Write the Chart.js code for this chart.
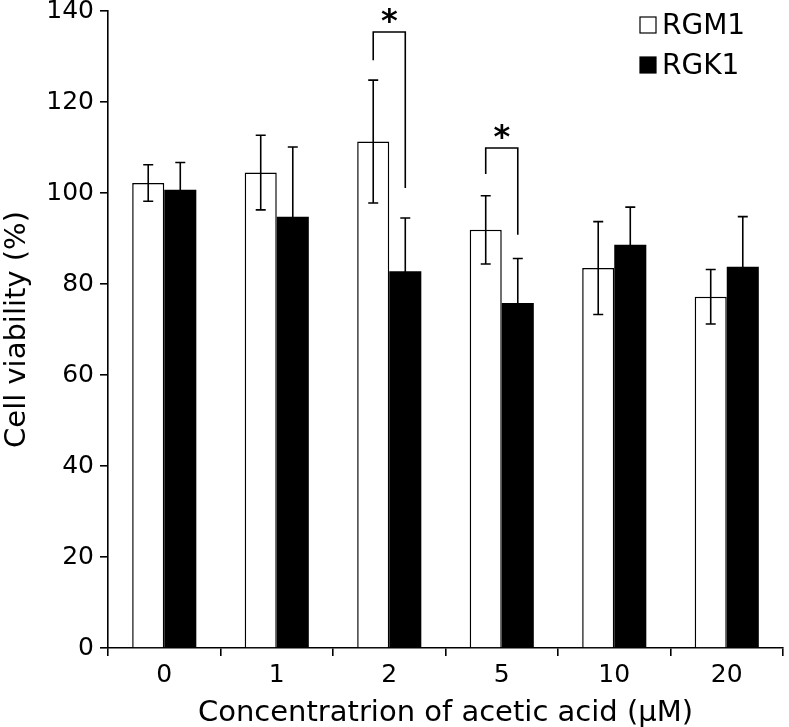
<!DOCTYPE html>
<html>
<head>
<meta charset="utf-8">
<script src="https://cdn.jsdelivr.net/npm/chart.js@4/dist/chart.umd.min.js"></script>
<style>
  html, body { margin: 0; padding: 0; background: #fff; }
  #wrap { width: 789px; height: 727px; }
</style>
</head>
<body>
<div id="wrap"><canvas id="chart"></canvas></div>
<script>
// données
const concentrations = ['0', '1', '2', '5', '10', '20'];
const rgm1 = [102.2, 104.5, 111.3, 91.9, 83.5, 77.2];
const rgm1Err = [4.0, 8.2, 13.5, 7.5, 10.2, 6.0];
const rgk1 = [100.7, 94.8, 82.8, 75.8, 88.6, 83.8];
const rgk1Err = [6.0, 15.3, 11.7, 9.8, 8.3, 11.0];
const yTicks = [0, 20, 40, 60, 80, 100, 120, 140];

// crochets de significativité : catégorie, bas gauche, haut, bas droit
const sigCategory = [2, 3];
const sigLeftLow = [129.2, 104.2];
const sigTop = [135.4, 109.9];
const sigRightLow = [101.1, 90.8];

const FONT = 'DejaVu Sans, Verdana, sans-serif';

// barres d'erreur, crochets et légende dessinés par-dessus
const overlay = {
    id: 'overlay',
    afterDatasetsDraw(chart) {
        const ctx = chart.ctx;
        const y = chart.scales.y;
        ctx.save();
        ctx.strokeStyle = '#000';
        ctx.lineWidth = 1.6;
        const errs = [rgm1Err, rgk1Err];
        chart.data.datasets.forEach((ds, d) => {
            const meta = chart.getDatasetMeta(d);
            meta.data.forEach((bar, i) => {
                const v = ds.data[i];
                const top = y.getPixelForValue(v + errs[d][i]);
                const bot = y.getPixelForValue(v - errs[d][i]);
                ctx.beginPath();
                ctx.moveTo(bar.x, top); ctx.lineTo(bar.x, bot);
                ctx.moveTo(bar.x - 5, top); ctx.lineTo(bar.x + 5, top);
                ctx.moveTo(bar.x - 5, bot); ctx.lineTo(bar.x + 5, bot);
                ctx.stroke();
            });
        });

        // crochets + astérisques
        sigCategory.forEach((c, k) => {
            const x1 = chart.getDatasetMeta(0).data[c].x;
            const x2 = chart.getDatasetMeta(1).data[c].x;
            const yt = y.getPixelForValue(sigTop[k]);
            ctx.beginPath();
            ctx.moveTo(x1, y.getPixelForValue(sigLeftLow[k]));
            ctx.lineTo(x1, yt);
            ctx.lineTo(x2, yt);
            ctx.lineTo(x2, y.getPixelForValue(sigRightLow[k]));
            ctx.stroke();
            ctx.fillStyle = '#000';
            ctx.font = 'bold 32px ' + FONT;
            ctx.textAlign = 'center';
            ctx.textBaseline = 'middle';
            ctx.fillText('*', (x1 + x2) / 2, yt - 9);
        });

        // légende
        ctx.font = '28px ' + FONT;
        ctx.textAlign = 'left';
        ctx.textBaseline = 'middle';
        chart.data.datasets.forEach((ds, d) => {
            const by = 17 + d * 40;
            ctx.fillStyle = ds.backgroundColor;
            ctx.fillRect(640, by, 16, 16);
            ctx.lineWidth = 1.2;
            ctx.strokeRect(640, by, 16, 16);
            ctx.fillStyle = '#000';
            ctx.fillText(ds.label, 662, by + 10);
        });
        ctx.restore();
    }
};

new Chart(document.getElementById('chart'), {
    type: 'bar',
    data: {
        labels: concentrations,
        datasets: [
            {
                label: 'RGM1',
                data: rgm1,
                backgroundColor: '#ffffff',
                borderColor: '#000000',
                borderWidth: 1.5,
                categoryPercentage: 0.57,
                barPercentage: 1.0
            },
            {
                label: 'RGK1',
                data: rgk1,
                backgroundColor: '#000000',
                borderColor: '#000000',
                borderWidth: 0,
                categoryPercentage: 0.57,
                barPercentage: 1.0
            }
        ]
    },
    options: {
        responsive: true,
        maintainAspectRatio: false,
        animation: false,
        layout: { padding: { top: 11, right: 6, left: 0, bottom: 0 } },
        plugins: {
            legend: { display: false },
            tooltip: { enabled: false }
        },
        scales: {
            x: {
                afterFit(scale) { scale.height = 79; scale.paddingRight = 0; scale.paddingLeft = 0; },
                border: { color: '#000', width: 1.6 },
                grid: {
                    offset: true,
                    drawOnChartArea: false,
                    drawTicks: true,
                    tickLength: 8,
                    color: '#000',
                    lineWidth: 1.6
                },
                ticks: { color: '#000', font: { family: FONT, size: 25 }, padding: 4 },
                title: {
                    display: true,
                    text: 'Concentratrion of acetic acid (μM)',
                    color: '#000',
                    font: { family: FONT, size: 29 },
                    padding: { top: 0, bottom: -4 }
                }
            },
            y: {
                min: 0,
                max: 140,
                afterFit(scale) { scale.width = 108; scale.paddingTop = 0; scale.paddingBottom = 0; },
                afterBuildTicks(scale) { scale.ticks = yTicks.map(v => ({ value: v })); },
                border: { color: '#000', width: 1.6 },
                grid: {
                    drawOnChartArea: false,
                    drawTicks: true,
                    tickLength: 8,
                    color: '#000',
                    lineWidth: 1.6
                },
                ticks: { color: '#000', font: { family: FONT, size: 25 }, padding: 6 },
                title: {
                    display: true,
                    text: 'Cell viability (%)',
                    color: '#000',
                    font: { family: FONT, size: 29 },
                    padding: { top: 0, bottom: 0 }
                }
            }
        }
    },
    plugins: [overlay]
});
</script>
</body>
</html>
